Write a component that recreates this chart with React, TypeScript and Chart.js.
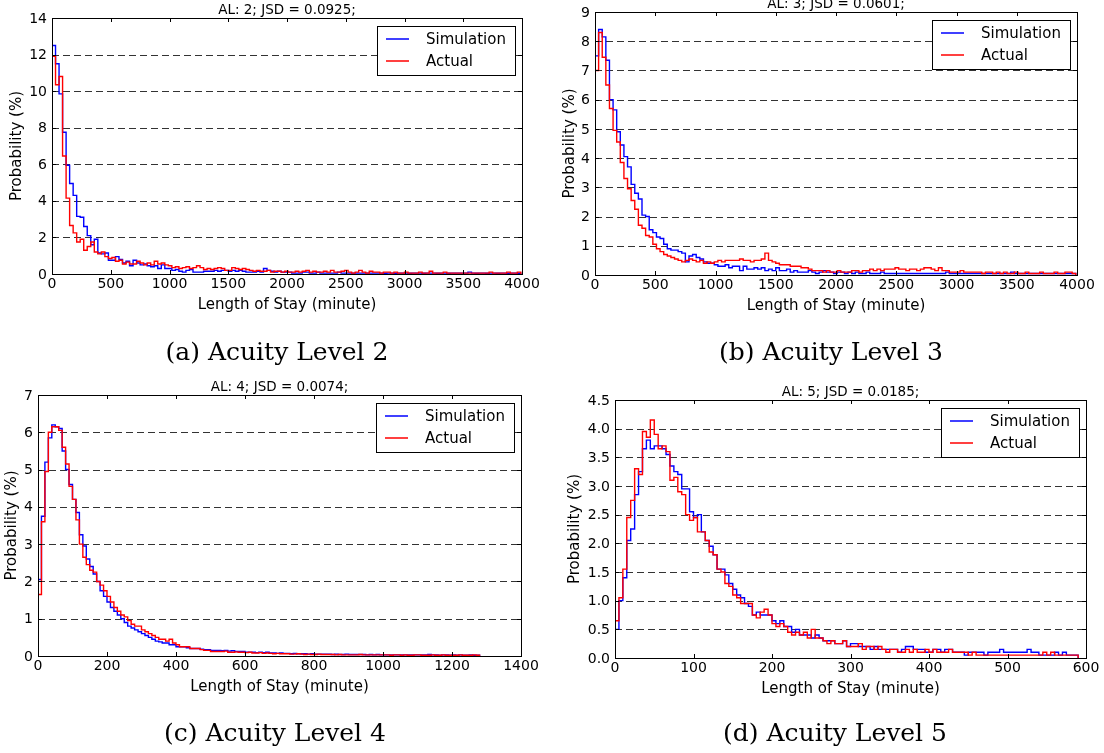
import React, { useEffect, useRef } from "react";
import { Chart, registerables } from "chart.js";

Chart.register(...registerables);

// ---------------- data ----------------
// bin widths (minutes)
const binA = 30;
const binB = 30;
const binC = 10;
const binD = 5;

// (a) Acuity Level 2
const simA = [
  12.5, 11.5, 9.85, 7.75, 5.95, 4.95, 4.3, 3.15, 3.1, 2.6,
  2.1, 1.6, 1.9, 1.15, 1.1, 1.15, 0.75, 0.75, 0.95, 0.8,
  0.6, 0.7, 0.45, 0.75, 0.6, 0.5, 0.55, 0.45, 0.4, 0.45,
  0.3, 0.5, 0.3, 0.3, 0.2, 0.25, 0.15, 0.1, 0.2, 0.25,
  0.1, 0.1, 0.1, 0.15, 0.15, 0.15, 0.2, 0.15, 0.2, 0.2,
  0.15, 0.2, 0.15, 0.2, 0.15, 0.1, 0.1, 0.1, 0.15, 0.1,
  0.3, 0.2, 0.15, 0.1, 0.15, 0.1, 0.1, 0.1, 0.05, 0.05,
  0.05, 0.1, 0.1, 0.05, 0.05, 0.1, 0.05, 0.05, 0.05, 0.05,
  0.05, 0.1, 0.05, 0.05, 0.05, 0.05, 0.05, 0.05, 0.05, 0.05,
  0.05, 0.05, 0.05, 0.05, 0.04, 0.05, 0.05, 0.04, 0.05, 0.05,
  0.05, 0.04, 0.05, 0.05, 0.05, 0.04, 0.05, 0.05, 0.05, 0.04,
  0.05, 0.05, 0.04, 0.05, 0.05, 0.05, 0.05, 0.05, 0.1, 0.05,
  0.04, 0.05, 0.05, 0.04, 0.05, 0.05, 0.04, 0.05, 0.05, 0.04,
  0.05, 0.05, 0.04,
];
const actA = [
  11.9, 10.35, 10.8, 6.45, 4.15, 2.65, 2.25, 1.75, 1.9, 1.3,
  1.5, 1.75, 1.2, 1.1, 1.2, 0.95, 0.85, 0.9, 0.7, 0.75,
  0.55, 0.65, 0.55, 0.55, 0.7, 0.6, 0.5, 0.6, 0.5, 0.7,
  0.55, 0.6, 0.5, 0.45, 0.35, 0.4, 0.3, 0.35, 0.4, 0.3,
  0.35, 0.45, 0.35, 0.25, 0.3, 0.25, 0.3, 0.35, 0.3, 0.2,
  0.2, 0.35, 0.3, 0.25, 0.3, 0.25, 0.2, 0.15, 0.2, 0.15,
  0.15, 0.2, 0.1, 0.15, 0.15, 0.1, 0.15, 0.1, 0.1, 0.15,
  0.1, 0.15, 0.2, 0.1, 0.15, 0.1, 0.1, 0.15, 0.1, 0.2,
  0.1, 0.1, 0.15, 0.2, 0.1, 0.05, 0.1, 0.2, 0.1, 0.05,
  0.15, 0.1, 0.1, 0.05, 0.1, 0.1, 0.05, 0.1, 0.05, 0.05,
  0.1, 0.05, 0.05, 0.05, 0.1, 0.05, 0.05, 0.15, 0.05, 0.05,
  0.05, 0.1, 0.05, 0.05, 0.05, 0.05, 0.05, 0.05, 0.05, 0.05,
  0.05, 0.05, 0.05, 0.05, 0.1, 0.05, 0.05, 0.05, 0.05, 0.1,
  0.05, 0.05, 0.1,
];

// (b) Acuity Level 3
const simB = [
  7.5, 8.4, 8.15, 7.35, 6.0, 5.65, 4.9, 4.45, 4.05, 3.7,
  3.1, 2.8, 2.6, 2.05, 2.0, 1.55, 1.45, 1.3, 1.25, 1.05,
  0.9, 0.85, 0.85, 0.8, 0.75, 0.45, 0.65, 0.7, 0.6, 0.55,
  0.45, 0.4, 0.4, 0.35, 0.3, 0.3, 0.35, 0.25, 0.3, 0.3,
  0.15, 0.3, 0.2, 0.2, 0.25, 0.2, 0.25, 0.15, 0.2, 0.15,
  0.25, 0.15, 0.15, 0.2, 0.1, 0.15, 0.1, 0.1, 0.1, 0.15,
  0.1, 0.05, 0.1, 0.15, 0.1, 0.1, 0.05, 0.1, 0.1, 0.05,
  0.1, 0.05, 0.1, 0.05, 0.05, 0.1, 0.05, 0.05, 0.05, 0.1,
  0.05, 0.05, 0.05, 0.05, 0.05, 0.05, 0.05, 0.05, 0.05, 0.05,
  0.05, 0.05, 0.05, 0.05, 0.05, 0.05, 0.05, 0.1, 0.05, 0.05,
  0.05, 0.05, 0.05, 0.05, 0.05, 0.05, 0.05, 0.05, 0.05, 0.05,
  0.05, 0.05, 0.05, 0.05, 0.05, 0.1, 0.05, 0.05, 0.05, 0.05,
  0.05, 0.05, 0.05, 0.05, 0.05, 0.05, 0.05, 0.05, 0.05, 0.05,
  0.05, 0.05, 0.05,
];
const actB = [
  7.0, 8.3, 7.45, 6.5, 5.7, 4.95, 4.55, 3.85, 3.3, 2.95,
  2.55, 2.25, 1.7, 1.6, 1.35, 1.3, 1.05, 0.9, 0.8, 0.7,
  0.65, 0.6, 0.55, 0.5, 0.45, 0.5, 0.55, 0.5, 0.45, 0.5,
  0.4, 0.45, 0.4, 0.45, 0.5, 0.45, 0.5, 0.5, 0.5, 0.5,
  0.55, 0.5, 0.5, 0.45, 0.5, 0.5, 0.55, 0.75, 0.5, 0.45,
  0.4, 0.35, 0.35, 0.35, 0.3, 0.3, 0.3, 0.25, 0.25, 0.2,
  0.15, 0.15, 0.15, 0.1, 0.15, 0.1, 0.1, 0.15, 0.1, 0.1,
  0.1, 0.15, 0.15, 0.1, 0.15, 0.15, 0.2, 0.15, 0.2, 0.15,
  0.2, 0.2, 0.2, 0.25, 0.2, 0.2, 0.15, 0.2, 0.2, 0.15,
  0.2, 0.25, 0.25, 0.2, 0.15, 0.25, 0.15, 0.15, 0.1, 0.1,
  0.1, 0.15, 0.1, 0.1, 0.1, 0.1, 0.1, 0.05, 0.1, 0.1,
  0.05, 0.1, 0.05, 0.1, 0.05, 0.05, 0.1, 0.05, 0.05, 0.1,
  0.05, 0.05, 0.05, 0.1, 0.05, 0.05, 0.05, 0.1, 0.05, 0.05,
  0.1, 0.1, 0.05,
];

// (c) Acuity Level 4
const simC = [
  2.05, 3.75, 5.2, 5.85, 6.2, 6.15, 6.1, 5.5, 5.0, 4.6,
  4.2, 3.85, 3.25, 2.95, 2.6, 2.4, 2.2, 2.0, 1.75, 1.6,
  1.45, 1.3, 1.2, 1.1, 1.0, 0.9, 0.8, 0.75, 0.7, 0.65,
  0.6, 0.55, 0.5, 0.45, 0.4, 0.38, 0.35, 0.35, 0.3, 0.3,
  0.25, 0.25, 0.25, 0.22, 0.2, 0.2, 0.2, 0.18, 0.17, 0.17,
  0.15, 0.15, 0.15, 0.14, 0.15, 0.13, 0.14, 0.12, 0.12, 0.12,
  0.1, 0.1, 0.1, 0.09, 0.1, 0.09, 0.1, 0.08, 0.08, 0.07,
  0.08, 0.07, 0.07, 0.06, 0.07, 0.06, 0.06, 0.06, 0.05, 0.06,
  0.05, 0.05, 0.05, 0.05, 0.05, 0.04, 0.05, 0.04, 0.04, 0.05,
  0.04, 0.04, 0.04, 0.04, 0.04, 0.03, 0.04, 0.03, 0.04, 0.03,
  0.03, 0.03, 0.03, 0.03, 0.03, 0.03, 0.03, 0.03, 0.03, 0.03,
  0.03, 0.03, 0.03, 0.04, 0.03, 0.03, 0.02, 0.03, 0.03, 0.02,
  0.03, 0.02, 0.03, 0.02, 0.02, 0.03, 0.02, 0.02,
];
const actC = [
  1.65, 3.6, 4.95, 6.0, 6.15, 6.15, 6.05, 5.6, 5.15, 4.55,
  4.2, 3.65, 3.0, 2.65, 2.45, 2.3, 2.25, 2.0, 1.9, 1.75,
  1.6, 1.45, 1.3, 1.2, 1.1, 1.05, 0.95, 0.85, 0.8, 0.8,
  0.7, 0.65, 0.6, 0.55, 0.5, 0.45, 0.45, 0.4, 0.45, 0.35,
  0.3, 0.25, 0.25, 0.25, 0.2, 0.2, 0.2, 0.17, 0.15, 0.15,
  0.12, 0.12, 0.12, 0.12, 0.13, 0.1, 0.1, 0.11, 0.1, 0.1,
  0.09, 0.1, 0.08, 0.08, 0.09, 0.07, 0.08, 0.07, 0.06, 0.07,
  0.06, 0.06, 0.06, 0.05, 0.05, 0.06, 0.05, 0.04, 0.05, 0.04,
  0.04, 0.05, 0.04, 0.04, 0.04, 0.04, 0.03, 0.04, 0.03, 0.03,
  0.03, 0.03, 0.03, 0.04, 0.03, 0.03, 0.03, 0.03, 0.03, 0.03,
  0.03, 0.03, 0.02, 0.03, 0.03, 0.02, 0.03, 0.02, 0.02, 0.03,
  0.03, 0.02, 0.02, 0.02, 0.03, 0.02, 0.02, 0.03, 0.02, 0.02,
  0.02, 0.02, 0.03, 0.02, 0.02, 0.02, 0.03, 0.02,
];

// (d) Acuity Level 5
const simD = [
  0.5, 1.0, 1.4, 2.05, 2.25, 2.85, 3.25, 3.65, 3.8, 3.65,
  3.7, 3.7, 3.65, 3.55, 3.35, 3.25, 3.2, 2.95, 2.95, 2.55,
  2.45, 2.5, 2.2, 2.05, 1.95, 1.8, 1.55, 1.55, 1.45, 1.3,
  1.2, 1.1, 1.05, 0.95, 0.9, 0.75, 0.8, 0.75, 0.75, 0.75,
  0.65, 0.6, 0.65, 0.55, 0.55, 0.45, 0.5, 0.4, 0.4, 0.4,
  0.35, 0.4, 0.35, 0.3, 0.3, 0.3, 0.25, 0.25, 0.3, 0.2,
  0.25, 0.25, 0.2, 0.2, 0.2, 0.15, 0.2, 0.15, 0.15, 0.15,
  0.15, 0.15, 0.1, 0.15, 0.2, 0.2, 0.15, 0.15, 0.15, 0.1,
  0.1, 0.15, 0.15, 0.1, 0.15, 0.15, 0.1, 0.1, 0.1, 0.05,
  0.1, 0.1, 0.1, 0.1, 0.05, 0.1, 0.1, 0.1, 0.15, 0.1,
  0.1, 0.1, 0.1, 0.1, 0.1, 0.15, 0.1, 0.1, 0.05, 0.05,
  0.05, 0.05, 0.1, 0.05, 0.1, 0.05, 0.05, 0.05,
];
const actD = [
  0.65, 1.05, 1.55, 2.45, 2.75, 3.3, 3.2, 3.95, 3.85, 4.15,
  3.9, 3.65, 3.7, 3.6, 3.1, 3.15, 2.9, 2.85, 2.5, 2.4,
  2.45, 2.2, 2.2, 2.05, 1.85, 1.8, 1.55, 1.5, 1.3, 1.25,
  1.1, 1.05, 0.95, 0.95, 0.95, 0.75, 0.7, 0.8, 0.85, 0.75,
  0.6, 0.55, 0.6, 0.55, 0.45, 0.4, 0.45, 0.4, 0.45, 0.35,
  0.5, 0.35, 0.35, 0.3, 0.25, 0.3, 0.25, 0.25, 0.3, 0.2,
  0.2, 0.2, 0.25, 0.15, 0.2, 0.2, 0.15, 0.2, 0.15, 0.1,
  0.15, 0.15, 0.1, 0.1, 0.15, 0.1, 0.15, 0.1, 0.1, 0.15,
  0.1, 0.15, 0.1, 0.1, 0.1, 0.15, 0.1, 0.1, 0.1, 0.1,
  0.05, 0.1, 0.05, 0.05, 0.05, 0.05, 0.05, 0.05, 0.05, 0.05,
  0.05, 0.05, 0.05, 0.05, 0.05, 0.05, 0.05, 0.05, 0.05, 0.1,
  0.05, 0.1, 0.05, 0.05, 0.05, 0.05, 0.05, 0.05,
];

// tick values / labels
const xTicksAB = [0, 500, 1000, 1500, 2000, 2500, 3000, 3500, 4000];
const xTicksC = [0, 200, 400, 600, 800, 1000, 1200, 1400];
const xTicksD = [0, 100, 200, 300, 400, 500, 600];
const yTicksA = [0, 2, 4, 6, 8, 10, 12, 14];
const yTicksB = [0, 1, 2, 3, 4, 5, 6, 7, 8, 9];
const yTicksC = [0, 1, 2, 3, 4, 5, 6, 7];
const yTicksD = [0, 0.5, 1, 1.5, 2, 2.5, 3, 3.5, 4, 4.5];
const yLabelsD = ["0.0", "0.5", "1.0", "1.5", "2.0", "2.5", "3.0", "3.5", "4.0", "4.5"];

const seriesNames = ["Simulation", "Actual"];
const titles = ["AL: 2; JSD = 0.0925;", "AL: 3; JSD = 0.0601;", "AL: 4; JSD = 0.0074;", "AL: 5; JSD = 0.0185;"];
const captions = ["(a) Acuity Level 2", "(b) Acuity Level 3", "(c) Acuity Level 4", "(d) Acuity Level 5"];
const xTitle = "Length of Stay (minute)";
const yTitle = "Probability (%)";

// ---------------- layout ----------------
type Box = { left: number; top: number; width: number; height: number };
type Area = { left: number; top: number; right: number; bottom: number };
type Panel = {
  title: string;
  caption: string;
  bin: number;
  sim: number[];
  act: number[];
  xTicks: number[];
  yTicks: number[];
  yLabels?: string[];
  box: Box;
  area: Area;
  yTitleOffset: number;
  captionX: number;
  captionY: number;
};

const panels: Panel[] = [
  {
    title: titles[0], caption: captions[0], bin: binA, sim: simA, act: actA,
    xTicks: xTicksAB, yTicks: yTicksA,
    box: { left: 0, top: 0, width: 552, height: 376 },
    area: { left: 52, top: 18, right: 522, bottom: 274 },
    yTitleOffset: 35, captionX: 277, captionY: 360,
  },
  {
    title: titles[1], caption: captions[1], bin: binB, sim: simB, act: actB,
    xTicks: xTicksAB, yTicks: yTicksB,
    box: { left: 552, top: 0, width: 552, height: 376 },
    area: { left: 595, top: 12, right: 1077, bottom: 275 },
    yTitleOffset: 25, captionX: 831, captionY: 360,
  },
  {
    title: titles[2], caption: captions[2], bin: binC, sim: simC, act: actC,
    xTicks: xTicksC, yTicks: yTicksC,
    box: { left: 0, top: 376, width: 552, height: 377 },
    area: { left: 38, top: 395, right: 521, bottom: 656 },
    yTitleOffset: 26, captionX: 275, captionY: 741,
  },
  {
    title: titles[3], caption: captions[3], bin: binD, sim: simD, act: actD,
    xTicks: xTicksD, yTicks: yTicksD, yLabels: yLabelsD,
    box: { left: 552, top: 376, width: 552, height: 377 },
    area: { left: 615, top: 400, right: 1086, bottom: 658 },
    yTitleOffset: 40, captionX: 835, captionY: 741,
  },
];

function toSteps(values: number[], bin: number) {
  const pts: { x: number; y: number }[] = [{ x: 0, y: 0 }];
  values.forEach((v, i) => pts.push({ x: i * bin, y: v }));
  pts.push({ x: values.length * bin, y: 0 });
  return pts;
}

const SANS = '"DejaVu Sans", sans-serif';

function decorPlugin(p: Panel) {
  const ox = p.box.left;
  const oy = p.box.top;
  return {
    id: "decor",
    beforeDatasetsDraw(chart: any) {
      const ctx = chart.ctx as CanvasRenderingContext2D;
      const { left, right } = chart.chartArea;
      const ys = chart.scales.y;
      ctx.save();
      ctx.strokeStyle = "rgba(0,0,0,0.8)";
      ctx.lineWidth = 1;
      ctx.setLineDash([7, 4]);
      p.yTicks.forEach((v) => {
        const py = Math.round(ys.getPixelForValue(v)) + 0.5;
        ctx.beginPath();
        ctx.moveTo(left, py);
        ctx.lineTo(right, py);
        ctx.stroke();
      });
      ctx.restore();
    },
    afterDatasetsDraw(chart: any) {
      const ctx = chart.ctx as CanvasRenderingContext2D;
      const { left, right, top, bottom } = chart.chartArea;
      const xs = chart.scales.x;
      const ys = chart.scales.y;
      ctx.save();
      ctx.setLineDash([]);
      ctx.strokeStyle = "#000";
      ctx.lineWidth = 1;
      // frame
      ctx.strokeRect(left + 0.5, top + 0.5, right - left, bottom - top);
      // inward ticks
      const tl = 4;
      ctx.beginPath();
      p.xTicks.forEach((v) => {
        const px = Math.round(xs.getPixelForValue(v)) + 0.5;
        ctx.moveTo(px, bottom);
        ctx.lineTo(px, bottom - tl);
        ctx.moveTo(px, top);
        ctx.lineTo(px, top + tl);
      });
      p.yTicks.forEach((v) => {
        const py = Math.round(ys.getPixelForValue(v)) + 0.5;
        ctx.moveTo(left, py);
        ctx.lineTo(left + tl, py);
        ctx.moveTo(right, py);
        ctx.lineTo(right - tl, py);
      });
      ctx.stroke();

      // legend
      const lw = 138;
      const lh = 49;
      const lx = right - 7 - lw;
      const ly = top + 8;
      ctx.fillStyle = "#fff";
      ctx.fillRect(lx, ly, lw, lh);
      ctx.strokeStyle = "#000";
      ctx.strokeRect(Math.round(lx) + 0.5, Math.round(ly) + 0.5, lw, lh);
      const colors = ["#0000ff", "#ff0000"];
      const rows = [ly + 13, ly + 35];
      ctx.font = `15px ${SANS}`;
      ctx.textBaseline = "middle";
      ctx.textAlign = "left";
      seriesNames.forEach((name, i) => {
        ctx.strokeStyle = colors[i];
        ctx.lineWidth = 1.5;
        ctx.beginPath();
        ctx.moveTo(lx + 9, rows[i]);
        ctx.lineTo(lx + 32, rows[i]);
        ctx.stroke();
        ctx.fillStyle = "#000";
        ctx.fillText(name, lx + 49, rows[i] + 1);
      });
      ctx.restore();
    },
    afterDraw(chart: any) {
      const ctx = chart.ctx as CanvasRenderingContext2D;
      const { left, right, top, bottom } = chart.chartArea;
      const xs = chart.scales.x;
      const ys = chart.scales.y;
      ctx.save();
      ctx.fillStyle = "#000";
      // tick labels
      ctx.font = `14px ${SANS}`;
      ctx.textAlign = "center";
      ctx.textBaseline = "alphabetic";
      p.xTicks.forEach((v) => {
        ctx.fillText(String(v), xs.getPixelForValue(v), bottom + 14);
      });
      ctx.textAlign = "right";
      ctx.textBaseline = "middle";
      p.yTicks.forEach((v, i) => {
        const lab = p.yLabels ? p.yLabels[i] : String(v);
        ctx.fillText(lab, left - 5, ys.getPixelForValue(v) + 1);
      });
      // title
      const cx = (left + right) / 2;
      ctx.font = `13.5px ${SANS}`;
      ctx.textAlign = "center";
      ctx.textBaseline = "alphabetic";
      ctx.fillText(p.title, cx, top - 4);
      // x title
      ctx.font = `15px ${SANS}`;
      ctx.fillText(xTitle, cx, bottom + 35);
      // y title
      ctx.save();
      ctx.translate(left - p.yTitleOffset, (top + bottom) / 2);
      ctx.rotate(-Math.PI / 2);
      ctx.textBaseline = "middle";
      ctx.fillText(yTitle, 0, 0);
      ctx.restore();
      // caption
      ctx.font = `25px "DejaVu Serif", serif`;
      ctx.textAlign = "center";
      ctx.textBaseline = "alphabetic";
      ctx.fillText(p.caption, p.captionX - ox, p.captionY - oy);
      ctx.restore();
    },
  };
}

function PanelChart({ p }: { p: Panel }) {
  const ref = useRef<HTMLCanvasElement>(null);
  useEffect(() => {
    const canvas = ref.current;
    if (!canvas) return;
    const xMax = p.xTicks[p.xTicks.length - 1];
    const yMax = p.yTicks[p.yTicks.length - 1];
    const chart = new Chart(canvas, {
      type: "line",
      data: {
        datasets: [
          {
            label: seriesNames[0],
            data: toSteps(p.sim, p.bin),
            borderColor: "#0000ff",
            borderWidth: 1.4,
            pointRadius: 0,
            stepped: "before",
            fill: false,
            order: 1,
          },
          {
            label: seriesNames[1],
            data: toSteps(p.act, p.bin),
            borderColor: "#ff0000",
            borderWidth: 1.4,
            pointRadius: 0,
            stepped: "before",
            fill: false,
            order: 0,
          },
        ],
      },
      options: {
        animation: false,
        responsive: false,
        maintainAspectRatio: false,
        events: [],
        layout: {
          padding: {
            left: p.area.left - p.box.left,
            top: p.area.top - p.box.top,
            right: p.box.left + p.box.width - p.area.right,
            bottom: p.box.top + p.box.height - p.area.bottom,
          },
        },
        plugins: {
          legend: { display: false },
          tooltip: { enabled: false },
          title: { display: false },
        },
        scales: {
          x: { type: "linear", min: 0, max: xMax, display: false },
          y: { type: "linear", min: 0, max: yMax, display: false },
        },
      } as any,
      plugins: [decorPlugin(p)],
    });
    return () => chart.destroy();
  }, [p]);
  return (
    <canvas
      ref={ref}
      width={p.box.width}
      height={p.box.height}
      style={{
        position: "absolute",
        left: p.box.left,
        top: p.box.top,
        width: p.box.width,
        height: p.box.height,
      }}
    />
  );
}

export default function App() {
  return (
    <div
      style={{
        position: "fixed",
        left: 0,
        top: 0,
        width: 1104,
        height: 753,
        background: "#fff",
        overflow: "hidden",
      }}
    >
      {panels.map((p, i) => (
        <PanelChart key={i} p={p} />
      ))}
    </div>
  );
}
